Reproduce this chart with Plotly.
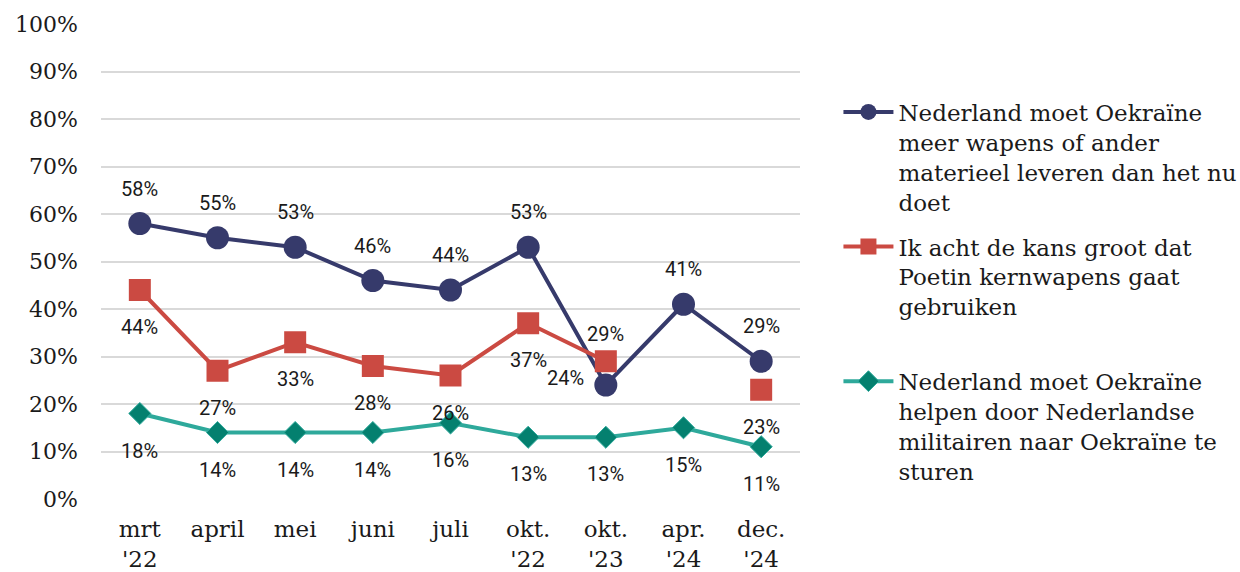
import plotly.graph_objects as go

categories = ["mrt<br>'22", "april", "mei", "juni", "juli", "okt.<br>'22", "okt.<br>'23", "apr.<br>'24", "dec.<br>'24"]
wapens = [58, 55, 53, 46, 44, 53, 24, 41, 29]
kernwapens = [44, 27, 33, 28, 26, 37, 29, None, 23]
militairen = [18, 14, 14, 14, 16, 13, 13, 15, 11]

names = [
    "Nederland moet Oekraïne<br>meer wapens of ander<br>materieel leveren dan het nu<br>doet",
    "Ik acht de kans groot dat<br>Poetin kernwapens gaat<br>gebruiken<br> ",
    "Nederland moet Oekraïne<br>helpen door Nederlandse<br>militairen naar Oekraïne te<br>sturen",
]

BLUE = "#363a6b"
RED = "#cb4a42"
TEAL = "#2ea99b"
TEAL_M = "#04806f"
SERIF = "DejaVu Serif"
SANS = "Roboto"

fig = go.Figure()
fig.add_trace(go.Scatter(x=categories, y=wapens, name=names[0], mode="lines+markers",
                         legendgroup="g1",
                         line=dict(color=BLUE, width=4),
                         marker=dict(symbol="circle", size=23, color=BLUE)))
fig.add_trace(go.Scatter(x=categories, y=kernwapens, name=names[1], mode="lines+markers",
                         legendgroup="g2", connectgaps=False,
                         line=dict(color=RED, width=4),
                         marker=dict(symbol="square", size=22, color=RED)))
fig.add_trace(go.Scatter(x=categories, y=militairen, name=names[2], mode="lines+markers",
                         legendgroup="g3",
                         line=dict(color=TEAL, width=4),
                         marker=dict(symbol="diamond", size=17, color=TEAL_M,
                                     line=dict(color=TEAL, width=1))))

# data labels
series = [(wapens, 35, {6: (-40, 7)}),
          (kernwapens, -37, {6: (0, 27)}),
          (militairen, -37, {})]
for vals, dy, overrides in series:
    for i, v in enumerate(vals):
        if v is None:
            continue
        xs, ys = overrides.get(i, (0, dy))
        fig.add_annotation(x=categories[i], y=v, text=f"{v}%", showarrow=False,
                           xshift=xs, yshift=ys,
                           font=dict(family=SANS, size=20, color="#1a1a1a"))

fig.update_layout(
    width=1240, height=572,
    margin=dict(l=101, r=440, t=24, b=73, autoexpand=False),
    plot_bgcolor="white", paper_bgcolor="white",
    showlegend=True,
    legend=dict(x=1.055, y=0.86, xanchor="left", yanchor="top", valign="top",
                font=dict(family=SERIF, size=23, color="#1a1a1a"),
                tracegroupgap=12, itemwidth=50, bgcolor="rgba(0,0,0,0)"),
    xaxis=dict(type="category", range=[-0.5, 8.5], showgrid=False, showline=False,
               ticks="", ticklabelstandoff=14,
               tickfont=dict(family=SERIF, size=23, color="#1a1a1a")),
    yaxis=dict(range=[0, 100], tickvals=list(range(0, 101, 10)),
               ticktext=[f"{v}%" for v in range(0, 101, 10)],
               showgrid=True, gridcolor="#d9d9d9", gridwidth=2, zeroline=False,
               showline=False, ticks="", ticklabelstandoff=22,
               tickfont=dict(family=SERIF, size=22, color="#1a1a1a")),
)

fig.write_html("out.html", config={"displayModeBar": False},
               post_script="document.body.style.margin='0';document.body.style.padding='0';")
